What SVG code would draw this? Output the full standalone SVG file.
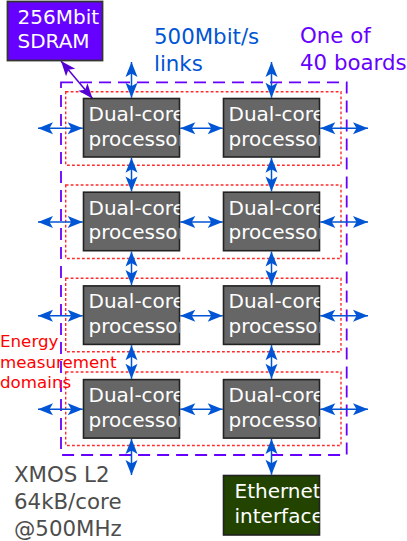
<svg xmlns="http://www.w3.org/2000/svg" width="407" height="541" viewBox="0 0 407 541">
<style>
  .proc { fill:#666666; stroke:#222222; stroke-width:1.6; }
  .ptxt { font-family:"DejaVu Sans", sans-serif; font-size:20px; fill:#ffffff; }
  .link { stroke:#0055d4; stroke-width:1.5; fill:none; marker-start:url(#ab); marker-end:url(#ab); }
  .dom { fill:none; stroke:#ff2a2a; stroke-width:1.4; stroke-dasharray:2.8 2.2; }
  .lbl { font-family:"DejaVu Sans", sans-serif; font-size:21.33px; }
</style>
<defs>
  <marker id="ab" markerUnits="userSpaceOnUse" markerWidth="16" markerHeight="14" viewBox="-16 -7 16 14" refX="0" refY="0" orient="auto-start-reverse">
    <path d="M0,0 L-15,-6 L-11.5,0 L-15,6 Z" fill="#0055d4"/>
  </marker>
  <marker id="ap" markerUnits="userSpaceOnUse" markerWidth="16" markerHeight="14" viewBox="-16 -7 16 14" refX="0" refY="0" orient="auto-start-reverse">
    <path d="M0,0 L-15,-6 L-11.5,0 L-15,6 Z" fill="#5500d4"/>
  </marker>
  <clipPath id="pc" clipPathUnits="userSpaceOnUse"><rect x="0" y="0" width="96" height="58.5"/></clipPath>
  <clipPath id="ec" clipPathUnits="userSpaceOnUse"><rect x="0" y="0" width="96" height="59.5"/></clipPath>
</defs>

<g id="board">
  <rect x="61" y="82.3" width="285.7" height="372.7" fill="none" stroke="#6600ff" stroke-width="1.8" stroke-dasharray="12 7"/>
</g>

<g id="domains">
  <rect class="dom" x="65.7" y="91.7" width="275.3" height="73.5"/>
  <rect class="dom" x="65.7" y="185" width="275.3" height="73.5"/>
  <rect class="dom" x="65.7" y="278.3" width="275.3" height="73.5"/>
  <rect class="dom" x="65.7" y="372" width="275.3" height="73.5"/>
</g>

<g id="connectors">
  <!-- vertical left column -->
  <line class="link" x1="131.5" y1="97.7" x2="131.5" y2="62"/>
  <line class="link" x1="131.5" y1="157.8" x2="131.5" y2="191.4"/>
  <line class="link" x1="131.5" y1="251.5" x2="131.5" y2="285.1"/>
  <line class="link" x1="131.5" y1="345.2" x2="131.5" y2="378.8"/>
  <line class="link" x1="131.5" y1="438.9" x2="131.5" y2="475"/>
  <!-- vertical right column -->
  <line class="link" x1="271.5" y1="97.7" x2="271.5" y2="62"/>
  <line class="link" x1="271.5" y1="157.8" x2="271.5" y2="191.4"/>
  <line class="link" x1="271.5" y1="251.5" x2="271.5" y2="285.1"/>
  <line class="link" x1="271.5" y1="345.2" x2="271.5" y2="378.8"/>
  <line class="link" x1="271.5" y1="438.9" x2="271.5" y2="474.7"/>
  <!-- horizontal -->
  <line class="link" x1="38" y1="128.3" x2="82.7" y2="128.3"/>
  <line class="link" x1="180.3" y1="128.3" x2="222.7" y2="128.3"/>
  <line class="link" x1="320.3" y1="128.3" x2="368" y2="128.3"/>
  <line class="link" x1="38" y1="222" x2="82.7" y2="222"/>
  <line class="link" x1="180.3" y1="222" x2="222.7" y2="222"/>
  <line class="link" x1="320.3" y1="222" x2="368" y2="222"/>
  <line class="link" x1="38" y1="315.7" x2="82.7" y2="315.7"/>
  <line class="link" x1="180.3" y1="315.7" x2="222.7" y2="315.7"/>
  <line class="link" x1="320.3" y1="315.7" x2="368" y2="315.7"/>
  <line class="link" x1="38" y1="409.3" x2="82.7" y2="409.3"/>
  <line class="link" x1="180.3" y1="409.3" x2="222.7" y2="409.3"/>
  <line class="link" x1="320.3" y1="409.3" x2="368" y2="409.3"/>
  <!-- SDRAM link -->
  <line x1="61" y1="61" x2="92.5" y2="98.5" stroke="#5500d4" stroke-width="1.5" marker-start="url(#ap)" marker-end="url(#ap)"/>
</g>

<g id="sdram" transform="translate(7.5,1.5)">
  <rect x="0" y="0" width="95" height="59" fill="#6600ff" stroke="#333333" stroke-width="1.8"/>
  <text class="ptxt" x="10" y="22.8">256Mbit</text>
  <text class="ptxt" x="10" y="46.8">SDRAM</text>
</g>

<g id="p11" transform="translate(83.5,98.5)">
  <rect class="proc" x="0" y="0" width="96" height="58.5"/>
  <g clip-path="url(#pc)"><text class="ptxt" x="5" y="22.4">Dual-core</text><text class="ptxt" x="5" y="47">processor</text></g>
</g>
<g id="p12" transform="translate(223.5,98.5)">
  <rect class="proc" x="0" y="0" width="96" height="58.5"/>
  <g clip-path="url(#pc)"><text class="ptxt" x="5" y="22.4">Dual-core</text><text class="ptxt" x="5" y="47">processor</text></g>
</g>
<g id="p21" transform="translate(83.5,192.2)">
  <rect class="proc" x="0" y="0" width="96" height="58.5"/>
  <g clip-path="url(#pc)"><text class="ptxt" x="5" y="22.4">Dual-core</text><text class="ptxt" x="5" y="47">processor</text></g>
</g>
<g id="p22" transform="translate(223.5,192.2)">
  <rect class="proc" x="0" y="0" width="96" height="58.5"/>
  <g clip-path="url(#pc)"><text class="ptxt" x="5" y="22.4">Dual-core</text><text class="ptxt" x="5" y="47">processor</text></g>
</g>
<g id="p31" transform="translate(83.5,285.9)">
  <rect class="proc" x="0" y="0" width="96" height="58.5"/>
  <g clip-path="url(#pc)"><text class="ptxt" x="5" y="22.4">Dual-core</text><text class="ptxt" x="5" y="47">processor</text></g>
</g>
<g id="p32" transform="translate(223.5,285.9)">
  <rect class="proc" x="0" y="0" width="96" height="58.5"/>
  <g clip-path="url(#pc)"><text class="ptxt" x="5" y="22.4">Dual-core</text><text class="ptxt" x="5" y="47">processor</text></g>
</g>
<g id="p41" transform="translate(83.5,379.6)">
  <rect class="proc" x="0" y="0" width="96" height="58.5"/>
  <g clip-path="url(#pc)"><text class="ptxt" x="5" y="22.4">Dual-core</text><text class="ptxt" x="5" y="47">processor</text></g>
</g>
<g id="p42" transform="translate(223.5,379.6)">
  <rect class="proc" x="0" y="0" width="96" height="58.5"/>
  <g clip-path="url(#pc)"><text class="ptxt" x="5" y="22.4">Dual-core</text><text class="ptxt" x="5" y="47">processor</text></g>
</g>

<g id="ethernet" transform="translate(223.5,475.5)">
  <rect x="0" y="0" width="96" height="59.5" fill="#224400" stroke="#222222" stroke-width="1.6"/>
  <g clip-path="url(#ec)"><text class="ptxt" x="11" y="22.8">Ethernet</text><text class="ptxt" x="11" y="47.8">interface</text></g>
</g>

<g id="labels">
  <text class="lbl" fill="#0055d4"><tspan x="154" y="44">500Mbit/s</tspan><tspan x="154" y="70.7">links</tspan></text>
  <text class="lbl" fill="#6600ff"><tspan x="300" y="43.3">One of</tspan><tspan x="300" y="70">40 boards</tspan></text>
  <text font-family="DejaVu Sans, sans-serif" font-size="16.7" fill="#ff0000"><tspan x="0" y="346.7">Energy</tspan><tspan x="0" y="367.5">measurement</tspan><tspan x="0" y="388.3">domains</tspan></text>
  <text class="lbl" fill="#4d4d4d"><tspan x="14" y="482.4">XMOS L2</tspan><tspan x="14" y="509">64kB/core</tspan><tspan x="14" y="535.6">@500MHz</tspan></text>
</g>
</svg>
